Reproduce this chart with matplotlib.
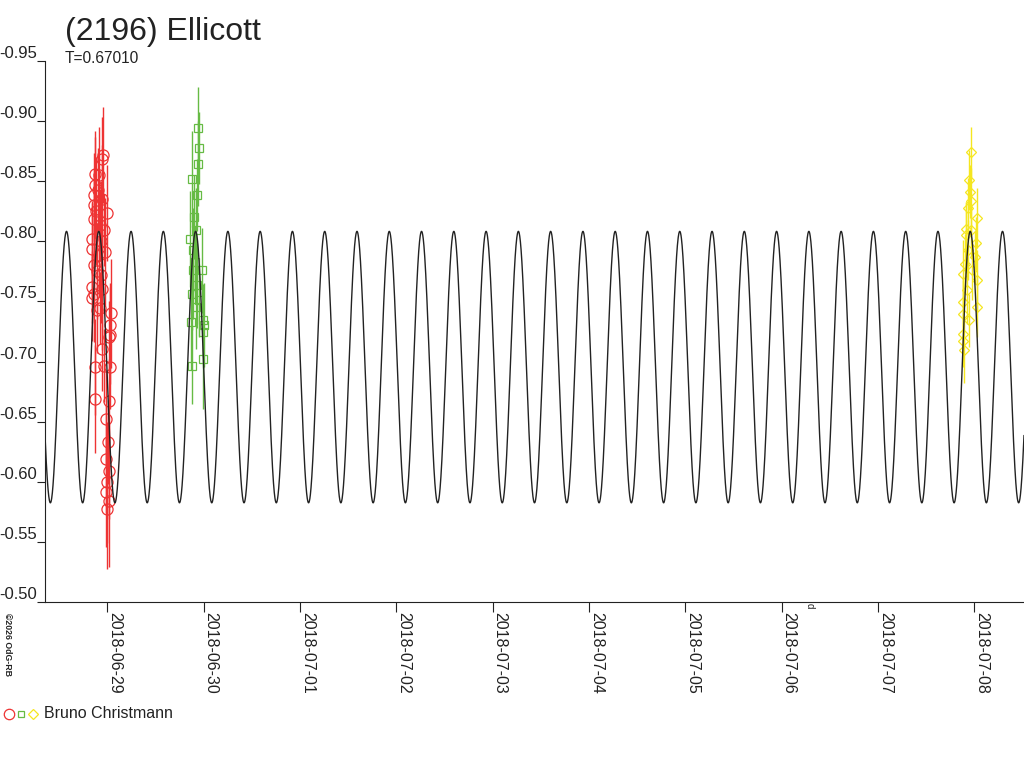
import numpy as np
import pandas as pd
import matplotlib
matplotlib.use("Agg")
import matplotlib.pyplot as plt
from matplotlib.lines import Line2D

plt.rcParams['font.family'] = ['Liberation Sans', 'DejaVu Sans']

# ---------------- data ----------------
title = "(2196) Ellicott"
period_label = "T=0.67010"
observer = "Bruno Christmann"
base_date = "2018-06-28"          # times are days since this date (UT)

# model lightcurve (double-peaked, period in days)
model_period = 0.67010
model_epoch = 0.5765               # time of a maximum (days since base_date)
model_mean = -0.6954
model_amp = 0.1129

red_t = [0.952, 0.945, 0.875, 0.869, 0.859, 0.859, 0.997, 0.859, 0.841, 0.841,
         0.973, 0.859, 0.841, 0.859, 0.841, 0.927, 1.042, 1.031, 1.031, 1.015,
         0.945, 0.869, 1.031, 0.963, 0.869, 1.021, 0.987, 1.007, 0.987, 1.015,
         0.997, 0.987, 1.015, 0.997, 0.903, 0.924, 0.914, 0.935, 0.966, 0.893,
         0.885, 0.910, 0.932, 0.950, 0.898, 0.940]
red_m = [-0.8717, -0.8683, -0.8564, -0.8467, -0.8383, -0.8300, -0.8239, -0.8189, -0.8023, -0.7939,
         -0.7911, -0.7800, -0.7619, -0.7564, -0.7525, -0.7442, -0.7400, -0.7300, -0.7217, -0.7203,
         -0.7108, -0.6953, -0.6953, -0.6967, -0.6689, -0.6675, -0.6522, -0.6328, -0.6189, -0.6092,
         -0.5994, -0.5911, -0.5842, -0.5772, -0.8425, -0.8133, -0.7883, -0.7717, -0.8092, -0.7425,
         -0.8250, -0.8550, -0.8000, -0.8350, -0.7750, -0.7600]
red_e = [0.040, 0.035, 0.030, 0.045, 0.035, 0.030, 0.040, 0.035, 0.030, 0.040,
         0.045, 0.035, 0.030, 0.040, 0.035, 0.030, 0.045, 0.035, 0.040, 0.030,
         0.035, 0.040, 0.035, 0.030, 0.045, 0.035, 0.040, 0.035, 0.045, 0.040,
         0.050, 0.045, 0.055, 0.050, 0.035, 0.030, 0.035, 0.040, 0.030, 0.035,
         0.045, 0.040, 0.050, 0.045, 0.040, 0.050]

green_t = [1.945, 1.952, 1.945, 1.876, 1.928, 1.900, 1.858, 1.980, 1.876, 1.921,
           1.997, 1.869, 2.007, 1.990, 1.997, 1.876, 1.890, 1.910, 1.931, 1.890,
           1.952, 1.921]
green_m = [-0.8944, -0.8778, -0.8647, -0.8517, -0.8383, -0.8203, -0.8022, -0.7758, -0.7564, -0.7453,
           -0.7342, -0.7328, -0.7306, -0.7244, -0.7022, -0.6967, -0.7925, -0.7825, -0.7633, -0.7758,
           -0.7508, -0.8092]
green_e = [0.034, 0.030, 0.035, 0.040, 0.030, 0.035, 0.040, 0.035, 0.030, 0.035,
           0.030, 0.040, 0.035, 0.030, 0.042, 0.032, 0.035, 0.030, 0.035, 0.040,
           0.030, 0.035]

yellow_t = [9.963, 9.948, 9.956, 9.963, 9.938, 9.914, 10.028, 9.914, 10.018, 9.903,
            10.007, 9.886, 10.025, 9.886, 10.025, 9.880, 9.886, 9.880, 9.893, 9.935,
            9.966, 9.924, 9.976, 9.945]
yellow_m = [-0.8744, -0.8508, -0.8411, -0.8333, -0.8275, -0.8106, -0.8192, -0.8050, -0.7983, -0.7814,
            -0.7869, -0.7731, -0.7675, -0.7494, -0.7453, -0.7397, -0.7231, -0.7175, -0.7092, -0.7925,
            -0.8092, -0.7592, -0.7758, -0.7342]
yellow_e = [0.021, 0.025, 0.022, 0.028, 0.025, 0.022, 0.025, 0.028, 0.022, 0.025,
            0.022, 0.028, 0.025, 0.022, 0.025, 0.028, 0.025, 0.022, 0.027, 0.025,
            0.022, 0.028, 0.025, 0.022]

x_tick_labels = ["2018-06-29", "2018-06-30", "2018-07-01", "2018-07-02", "2018-07-03",
                 "2018-07-04", "2018-07-05", "2018-07-06", "2018-07-07", "2018-07-08"]
y_ticks = [-0.95, -0.90, -0.85, -0.80, -0.75, -0.70, -0.65, -0.60, -0.55, -0.50]

# ---------------- figure ----------------
W, H = 1024, 768
fig = plt.figure(figsize=(W / 100, H / 100), dpi=100)
fig.patch.set_facecolor('white')
ax = fig.add_axes([45 / W, 1 - 602 / H, 1 - 45 / W, (602 - 61) / H])

txt = '#222222'
RED, GREEN, YELLOW = '#ee3333', '#66bb44', '#f5e620'

x_min, x_max = 0.3533, 10.516
ax.set_xlim(x_min, x_max)
ax.set_ylim(-0.50, -0.95)

# data
for t, m, e, col, mk, ms in [(red_t, red_m, red_e, RED, 'o', 8),
                              (green_t, green_m, green_e, GREEN, 's', 5.5),
                              (yellow_t, yellow_m, yellow_e, YELLOW, 'D', 5)]:
    ax.errorbar(t, m, yerr=e, fmt='none', ecolor=col, elinewidth=1.0, capsize=0, zorder=2)
    ax.plot(t, m, ls='none', marker=mk, mfc='none', mec=col, mew=0.9, ms=ms, zorder=3)

# model curve
tt = np.linspace(x_min, x_max, 6000)
mm = model_mean - model_amp * np.cos(4 * np.pi * (tt - model_epoch) / model_period)
ax.plot(tt, mm, color='#222222', lw=1.0, zorder=4)

# axes styling
for s in ['top', 'right']:
    ax.spines[s].set_visible(False)
for s in ['left', 'bottom']:
    ax.spines[s].set_color(txt)
    ax.spines[s].set_linewidth(0.8)

ax.set_yticks(y_ticks)
ax.set_yticklabels([f"{v:.2f}" for v in y_ticks], fontsize=12, color=txt)
for lab in ax.get_yticklabels():
    lab.set_verticalalignment('bottom')
ax.tick_params(axis='y', direction='out', length=6, width=0.8, color=txt, pad=0)

base = pd.Timestamp(base_date)
x_ticks = [(pd.Timestamp(s) - base) / pd.Timedelta(days=1) for s in x_tick_labels]
ax.set_xticks(x_ticks)
ax.set_xticklabels(x_tick_labels, rotation=270, fontsize=11.5, color=txt,
                   ha='left', va='top')
ax.tick_params(axis='x', direction='out', length=7.5, width=0.8, color=txt, pad=0)

# texts
fig.text(65 / W, 1 - 40 / H, title, fontsize=23, color=txt, ha='left', va='baseline')
fig.text(65 / W, 1 - 63 / H, period_label, fontsize=11.2, color=txt, ha='left', va='baseline')
fig.text(810 / W, 1 - 603 / H, "d", fontsize=7, color=txt, rotation=270, ha='center', va='top')
fig.text(3 / W, 1 - 613 / H, "©2026 OdG-RB", fontsize=6.3, color=txt, rotation=270,
         ha='left', va='top', fontweight='bold')

# legend (observer)
ly = 1 - 714 / H
fig.add_artist(Line2D([9 / W], [ly], transform=fig.transFigure, marker='o', ms=7.5,
                      mfc='none', mec=RED, mew=0.9, ls='none'))
fig.add_artist(Line2D([21 / W], [ly], transform=fig.transFigure, marker='s', ms=5,
                      mfc='none', mec=GREEN, mew=0.9, ls='none'))
fig.add_artist(Line2D([33 / W], [ly], transform=fig.transFigure, marker='D', ms=5,
                      mfc='none', mec=YELLOW, mew=0.9, ls='none'))
fig.text(44 / W, ly, observer, fontsize=11.5, color=txt, ha='left', va='center')

fig.savefig("out.png", dpi=100)
